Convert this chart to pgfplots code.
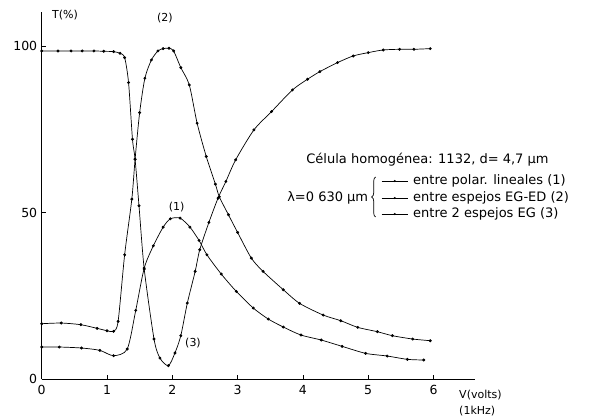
\documentclass[border=0pt]{standalone}
\usepackage{fontspec}
\setmainfont{DejaVu Sans}
\usepackage{pgfplots}
\pgfplotsset{compat=1.18}
\usetikzlibrary{decorations.pathreplacing}

% curve (1): entre polar. lineales
\pgfplotstableread{
x y
0 9.6
0.27 9.6
0.61 9.3
0.89 8.6
1.1 7.0
1.31 9.0
1.44 20.6
1.57 33.3
1.71 40.0
1.86 45.6
1.97 48.1
2.12 48.3
2.27 45.6
2.41 41.6
2.53 37.3
2.75 31.5
2.98 26.3
3.24 21.3
3.47 18.0
3.7 15.6
3.97 13.2
4.28 11.7
4.6 9.8
4.96 7.7
5.29 6.9
5.6 5.9
5.85 5.7
}\curveA
% curve (2): entre espejos EG-ED
\pgfplotstableread{
x y
0 16.6
0.3 16.8
0.6 16.3
0.85 15.2
1.0 14.5
1.1 14.3
1.17 17.3
1.27 37.3
1.38 54.0
1.43 66.0
1.5 80.0
1.58 90.3
1.68 95.8
1.78 98.5
1.86 99.2
1.95 99.3
2.02 98.5
2.13 93.5
2.26 88.3
2.38 76.8
2.52 66.8
2.66 58.5
2.72 54.7
2.86 49.3
3.0 44.0
3.21 36.3
3.39 32.3
3.7 26.8
3.95 22.7
4.31 19.2
4.58 17.5
4.84 15.5
5.14 14.2
5.37 13.0
5.68 12.0
5.95 11.5
}\curveB
% curve (3): entre 2 espejos EG
\pgfplotstableread{
x y
0 98.5
0.25 98.5
0.45 98.5
0.62 98.5
0.8 98.5
0.95 98.4
1.1 98.3
1.2 97.8
1.27 96.5
1.33 89.0
1.39 72.0
1.43 66.0
1.49 52.0
1.57 33.0
1.72 12.0
1.81 6.3
1.94 4.0
2.04 7.8
2.13 13.0
2.23 22.8
2.35 32.3
2.42 38.8
2.56 47.0
2.7 54.3
2.82 59.3
2.97 65.8
3.25 74.8
3.52 80.3
3.84 86.8
4.07 90.0
4.26 92.3
4.53 95.0
4.77 97.0
5.0 98.0
5.23 98.8
5.48 99.0
5.7 99.0
5.95 99.2
}\curveC

\begin{document}
\begin{tikzpicture}
\useasboundingbox (-41.7pt,-40pt) rectangle (569.3pt,379pt);
\begin{axis}[
  at={(0pt,0pt)}, anchor=south west,
  scale only axis,
  width=433.3pt, height=367pt,
  xmin=0, xmax=6.635, ymin=0, ymax=110.2,
  axis x line=bottom, axis y line=left,
  axis line style={-, line width=0.8pt},
  xtick={0,1,2,3,4,5,6},
  ytick={0,50,100},
  tick align=inside,
  major tick length=4pt,
  tick style={black, line width=0.8pt},
  ticklabel style={font=\fontsize{12.5}{14}\selectfont},
  /pgf/number format/assume math mode=true,
  xticklabel style={yshift=-3pt},
  yticklabel style={xshift=-1pt},
  curve/.style={black, line width=0.7pt, smooth, tension=0.45,
    mark=*, mark size=1.1pt, mark options={solid, fill=black}},
]
\addplot[curve] table {\curveA};
\addplot[curve] table {\curveB};
\addplot[curve] table {\curveC};
\end{axis}

% axis titles
\node[anchor=west, font=\fontsize{11}{13}\selectfont] at (7pt,364pt) {T(\%)};
\node[anchor=west, font=\fontsize{11}{13}\selectfont] at (414pt,-16pt) {V(volts)};
\node[anchor=west, font=\fontsize{11}{13}\selectfont] at (414pt,-32pt) {(1kHz)};

% curve labels
\node[font=\fontsize{11}{13}\selectfont] at (123.3pt,361pt) {(2)};
\node[font=\fontsize{11}{13}\selectfont] at (135pt,172pt) {(1)};
\node[font=\fontsize{11}{13}\selectfont] at (151.3pt,36pt) {(3)};

% legend block
\node[font=\fontsize{13}{15}\selectfont] at (385.8pt,219pt) {Célula homogénea: 1132, d= 4,7 μm};
\node[anchor=east, font=\fontsize{13}{15}\selectfont] at (330pt,181pt) {λ=0 630 μm};
\draw[line width=0.7pt, decorate, decoration={brace, amplitude=4pt, mirror}]
  (334pt,202pt) -- (334pt,162pt);
\foreach \yy/\txt in {198/{entre polar. lineales (1)},
                      181/{entre espejos EG-ED (2)},
                      165/{entre 2 espejos EG (3)}} {
  \draw[line width=0.7pt] (340pt,\yy pt) -- (366pt,\yy pt);
  \fill (353pt,\yy pt) circle (1.1pt);
  \node[anchor=west, font=\fontsize{13}{15}\selectfont] at (368pt,\yy pt) {\txt};
}
\end{tikzpicture}
\end{document}
